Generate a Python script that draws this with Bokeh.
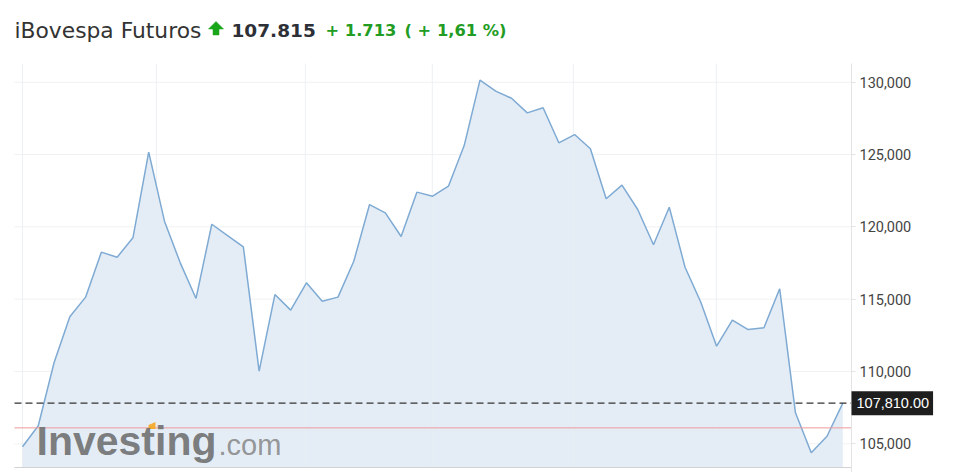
from bokeh.plotting import figure
from bokeh.models import Label, NumeralTickFormatter, FixedTicker, Range1d, LinearAxis
from bokeh.embed import file_html
from bokeh.resources import INLINE

# ---- data (weekly closes) ----
weeks = list(range(53))
close = [104800, 106250, 110600, 113780, 115140, 118250, 117900, 119240, 125160, 120390,
         117510, 115050, 120180, 119400, 118620, 110020, 115320, 114240, 116130, 114860,
         115140, 117620, 121540, 120970, 119330, 122400, 122120, 122810, 125620, 130140,
         129380, 128890, 127880, 128230, 125810, 126380, 125400, 121940, 122880, 121200,
         118760, 121360, 117210, 114790, 111750, 113550, 112900, 113020, 115720, 107140,
         104380, 105520, 107810]
y_ticks = [105000, 110000, 115000, 120000, 125000, 130000]
last_price = 107810
prev_close = 106102
title_name = "iBovespa Futuros"
title_price = "107.815"
title_change = "+ 1.713"
title_pct = "( + 1,61 %)"
price_label = "107,810.00"

# ---- layout (pixels on the canvas) ----
W, H = 950, 472
SX = 15.775          # px per week
X0PX = 22.0          # canvas x of first week
SY = 14.464 / 1000   # px per index point
Y130PX = 81.7        # canvas y of the 130,000 level


def xd(px):
    return (px - X0PX) / SX


def yd(py):
    return 130000 - (py - Y130PX) / SY


XL, XA = xd(14), xd(851)          # chart left edge, axis position
YB, YT = yd(467), yd(63)          # chart bottom / top
grid_x = [0, 8.49, 17.93, 25.98, 34.92, 43.98]

p = figure(width=W, height=H, output_backend="svg", toolbar_location=None,
           x_range=Range1d(xd(0), xd(W)), y_range=Range1d(yd(H), yd(0)),
           x_axis_location=None, y_axis_location=None,
           min_border=0, min_border_left=0, min_border_right=0,
           min_border_top=0, min_border_bottom=0)
p.title.visible = False
p.xgrid.visible = False
p.ygrid.visible = False
p.outline_line_color = None
p.background_fill_color = "white"
p.border_fill_color = "white"

# grid
p.segment(x0=[XL] * len(y_ticks), x1=[XA] * len(y_ticks), y0=y_ticks, y1=y_ticks,
          line_color="#f1f1f1", line_width=1)

# area + line
p.varea(x=weeks, y1=[YB] * len(weeks), y2=close, fill_color="#e4edf6")
p.segment(x0=grid_x, x1=grid_x, y0=[YB] * len(grid_x), y1=[YT] * len(grid_x),
          line_color="#e9edf1", line_width=1, line_alpha=0.8)
p.line(x=weeks, y=close, line_color="#7eaad3", line_width=1.5)

# reference lines
p.segment(x0=[XL], x1=[XA], y0=[YB], y1=[YB], line_color="#d2d2d2", line_width=1)
p.segment(x0=[XL], x1=[XA], y0=[prev_close], y1=[prev_close], line_color="#ef9a9a",
          line_width=1)
p.segment(x0=[XL], x1=[XA], y0=[last_price], y1=[last_price], line_color="#333333",
          line_width=1.2, line_dash="7 4")

# right price axis drawn at a fixed location
ya = LinearAxis(fixed_location=XA, bounds=(yd(H), YT))
ya.ticker = FixedTicker(ticks=y_ticks)
ya.formatter = NumeralTickFormatter(format="0,0")
ya.axis_line_color = "#e3e3e3"
ya.major_tick_line_color = "#e3e3e3"
ya.major_tick_in = 0
ya.major_tick_out = 4
ya.minor_tick_line_color = None
ya.major_label_text_font = "Roboto"
ya.major_label_text_font_size = "14.5px"
ya.major_label_text_color = "#444444"
ya.major_label_standoff = 4
p.add_layout(ya, "right")

# watermark logo
p.add_layout(Label(x=36, y=H - 440, x_units="screen", y_units="screen", text="Investing",
                   text_font="Liberation Sans", text_font_style="bold", text_font_size="41px",
                   text_color="#6e6e6e", text_alpha=0.88, text_baseline="alphabetic"))
p.add_layout(Label(x=218, y=H - 444, x_units="screen", y_units="screen", text=".com",
                   text_font="Liberation Sans", text_font_size="29px",
                   text_color="#8a8a8a", text_alpha=0.9, text_baseline="alphabetic"))
# small orange accent on the logo's "t" (decoration, pixel-placed)
ox_px = [148, 155, 155, 148]
oy_px = [428.5, 428.5, 421.5, 424.5]
p.patch(x=[xd(v) for v in ox_px], y=[yd(v) for v in oy_px], fill_color="#f5a623",
        fill_alpha=0.9, line_color=None)

# price box
p.add_layout(Label(x=XA, y=last_price, text=price_label, text_font="Liberation Sans",
                   text_font_size="14.5px", text_color="white", text_baseline="middle",
                   text_align="left", background_fill_color="#1e1e1e",
                   padding=dict(left=5, right=4, top=7, bottom=7)))

# title pieces
ty = H - 30
p.add_layout(Label(x=14, y=ty, x_units="screen", y_units="screen", text=title_name,
                   text_font="DejaVu Sans", text_font_size="21.8px", text_color="#333333",
                   text_baseline="alphabetic"))
# green up-arrow icon (decoration, pixel-placed)
ax_px = [215.5, 223, 218.5, 218.5, 212.5, 212.5, 208]
ay_px = [21, 28.5, 28.5, 34.5, 34.5, 28.5, 28.5]
p.patch(x=[xd(v) for v in ax_px], y=[yd(v) for v in ay_px], fill_color="#19a519",
        line_color="#19a519", line_width=0.5)
p.add_layout(Label(x=231, y=ty, x_units="screen", y_units="screen", text=title_price,
                   text_font="DejaVu Sans", text_font_style="bold", text_font_size="18.5px",
                   text_color="#2d3036", text_baseline="alphabetic"))
p.add_layout(Label(x=325, y=ty, x_units="screen", y_units="screen", text=title_change,
                   text_font="DejaVu Sans", text_font_style="bold", text_font_size="16.3px",
                   text_color="#229c22", text_baseline="alphabetic"))
p.add_layout(Label(x=404, y=ty, x_units="screen", y_units="screen", text=title_pct,
                   text_font="DejaVu Sans", text_font_style="bold", text_font_size="16.3px",
                   text_color="#229c22", text_baseline="alphabetic"))

open("out.html", "w").write(file_html(p, INLINE))
